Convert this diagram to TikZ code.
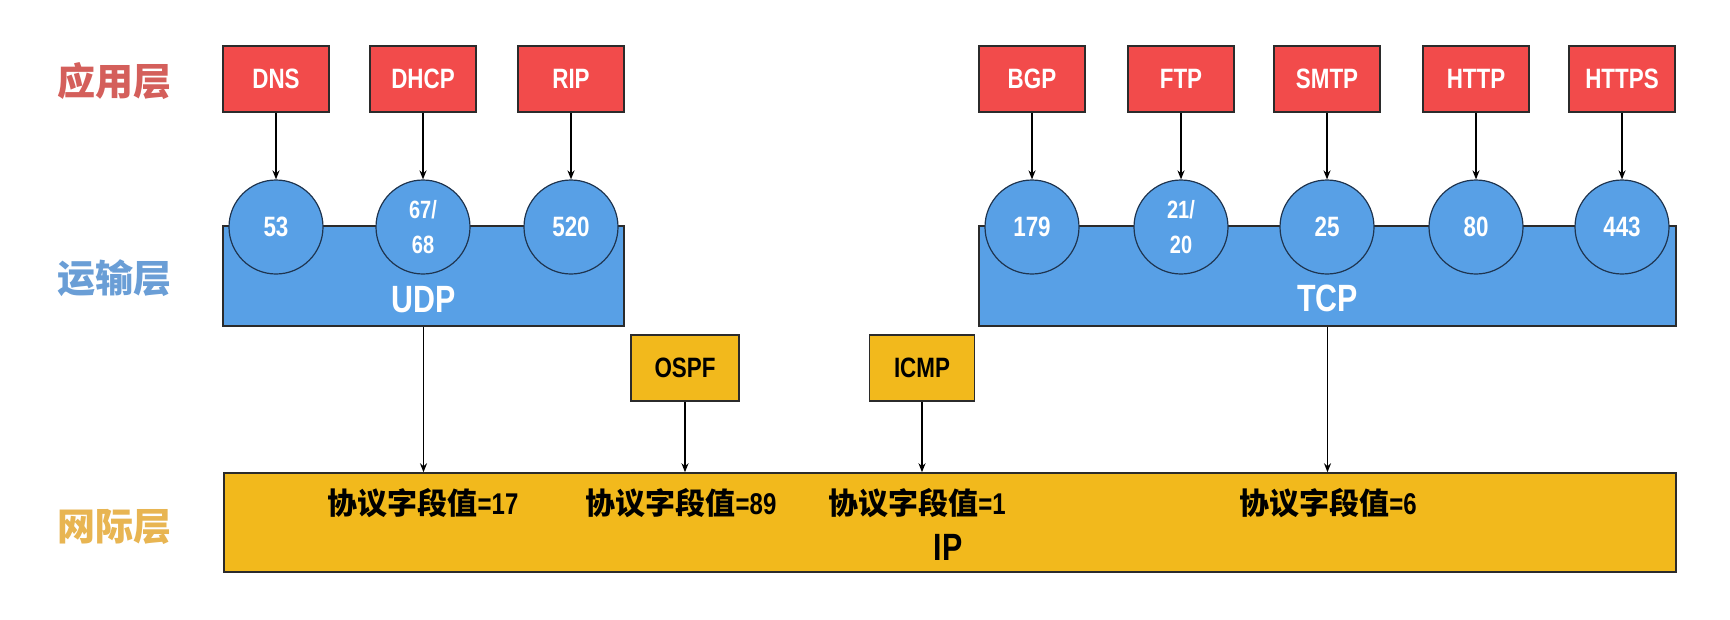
\documentclass[tikz,border=0pt]{standalone}
\usepackage{fontspec}
\setmainfont{Liberation Sans}[FakeStretch=0.8]
\newfontfamily\cjk{Noto Sans CJK SC}
\usetikzlibrary{arrows.meta}
\definecolor{appred}{HTML}{F24B4B}
\definecolor{tblue}{HTML}{58A0E6}
\definecolor{ipgold}{HTML}{F2B91C}
\definecolor{lred}{HTML}{D45F5B}
\definecolor{lblue}{HTML}{6A9ED6}
\definecolor{lgold}{HTML}{E8B552}
\definecolor{edge}{HTML}{2B2B2B}
\definecolor{cedge}{HTML}{1F3550}
\begin{document}
\begin{tikzpicture}[x=1pt,y=-1pt,
  appbox/.style={draw=edge,line width=1.5pt,fill=appred,minimum width=106pt,minimum height=66pt,inner sep=0pt,text=white,font=\fontsize{28}{30}\selectfont\bfseries},
  netbox/.style={draw=edge,line width=1.5pt,fill=ipgold,minimum width=106pt,minimum height=66pt,inner sep=0pt,text=black,font=\fontsize{28}{30}\selectfont\bfseries},
  port/.style={circle,draw=cedge,line width=1.2pt,fill=tblue,minimum size=94pt,inner sep=0pt,text=white,font=\fontsize{28}{35}\selectfont\bfseries,align=center},
  port2/.style={port,font=\fontsize{25}{35}\selectfont\bfseries},
  band/.style={draw=edge,line width=1.5pt,fill=tblue,inner sep=0pt},
  ipband/.style={draw=edge,line width=1.5pt,fill=ipgold,inner sep=0pt},
  bandtext/.style={font=\fontsize{38}{40}\selectfont\bfseries,inner sep=0pt},
  layer/.style={font=\cjk\bfseries\fontsize{38}{40}\selectfont,inner sep=0pt},
  field/.style={font=\fontsize{30}{32}\selectfont\bfseries,inner sep=0pt},
  arr/.style={-{Stealth[length=9pt,width=7pt]},line width=1.8pt,black}
]
\useasboundingbox (0,0) rectangle (1730,619);
\fill[white] (0,0) rectangle (1730,619);

% layer labels
\node[layer,text=lred] (lapp) at (114,81) {应用层};
\node[layer,text=lblue] (ltrans) at (114,278) {运输层};
\node[layer,text=lgold] (lnet) at (114,527) {网际层};

% transport bands
\node[band,minimum width=401pt,minimum height=100pt] (udp) at (423.5,276) {};
\node[band,minimum width=697pt,minimum height=100pt] (tcp) at (1327.5,276) {};
\node[bandtext,text=white] (udptext) at (423.5,300) {UDP};
\node[bandtext,text=white] (tcptext) at (1327.5,298) {TCP};

% IP band
\node[ipband,minimum width=1452pt,minimum height=99pt] (ip) at (950,522.5) {};
\node[bandtext,text=black] (iptext) at (948,547) {IP};
\node[field] (f17) at (423,503) {{\cjk\bfseries 协议字段值}=17};
\node[field] (f89) at (681,503) {{\cjk\bfseries 协议字段值}=89};
\node[field] (f1) at (917,503) {{\cjk\bfseries 协议字段值}=1};
\node[field] (f6) at (1328,503) {{\cjk\bfseries 协议字段值}=6};

% application boxes
\node[appbox] (dns) at (276,79) {DNS};
\node[appbox] (dhcp) at (423,79) {DHCP};
\node[appbox] (rip) at (571,79) {RIP};
\node[appbox] (bgp) at (1032,79) {BGP};
\node[appbox] (ftp) at (1181,79) {FTP};
\node[appbox] (smtp) at (1327,79) {SMTP};
\node[appbox] (http) at (1476,79) {HTTP};
\node[appbox] (https) at (1622,79) {HTTPS};

% ports
\node[port] (p53) at (276,227) {53};
\node[port2] (p67) at (423,227) {67/\\68};
\node[port] (p520) at (571,227) {520};
\node[port] (p179) at (1032,227) {179};
\node[port2] (p21) at (1181,227) {21/\\20};
\node[port] (p25) at (1327,227) {25};
\node[port] (p80) at (1476,227) {80};
\node[port] (p443) at (1622,227) {443};

% network-layer protocols
\node[netbox,minimum width=108pt] (ospf) at (685,368) {OSPF};
\node[netbox,minimum width=105pt] (icmp) at (922,368) {ICMP};

% connectors
\foreach \a/\b in {dns/p53,dhcp/p67,rip/p520,bgp/p179,ftp/p21,smtp/p25,http/p80,https/p443}
  \draw[arr] (\a.south) -- (\b.north);
\draw[arr] (udp.south) -- (udp.south |- ip.north);
\draw[arr] (tcp.south) -- (tcp.south |- ip.north);
\draw[arr] (ospf.south) -- (ospf.south |- ip.north);
\draw[arr] (icmp.south) -- (icmp.south |- ip.north);
\end{tikzpicture}
\end{document}
